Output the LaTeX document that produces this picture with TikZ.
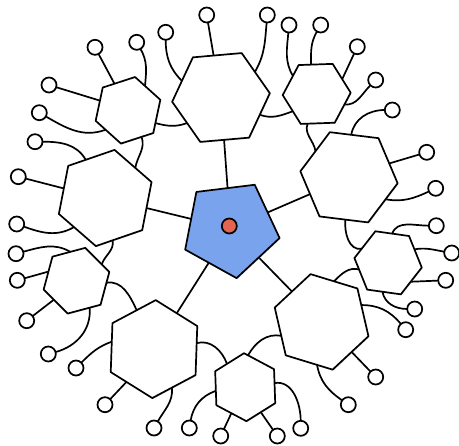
\documentclass[tikz,border=0pt]{standalone}
\usetikzlibrary{shapes.geometric,backgrounds,shadows}
\definecolor{pentblue}{RGB}{122,163,238}
\definecolor{dotred}{RGB}{228,100,82}
\tikzset{
  base/.style={draw=black, line width=1.7pt, line join=round, inner sep=0pt, outer sep=0pt, fill=white,
     drop shadow={shadow xshift=0.8pt, shadow yshift=-1pt, opacity=0.25}},
  bighex/.style={base, regular polygon, regular polygon sides=6, minimum size=98pt},
  smallhex/.style={base, regular polygon, regular polygon sides=6, minimum size=68pt},
  pent/.style={base, regular polygon, regular polygon sides=5, minimum size=100pt, fill=pentblue},
  leaf/.style={base, circle, minimum size=15pt},
  reddot/.style={base, circle, minimum size=15pt, fill=dotred},
  conn/.style={line width=1.7pt, line cap=round},
}
\begin{document}
\begin{tikzpicture}[x=1pt,y=1pt]
\useasboundingbox (0,0) rectangle (459,-446);
% centre
\node[pent, regular polygon rotate=-29] (P) at (230.5,-228.5) {};
\node[reddot] (R) at (229.3,-226) {};
% hexagons
\node[bighex, regular polygon rotate=5] (H1) at (221,-97.5) {};
\node[smallhex, regular polygon rotate=18] (H2) at (128,-110.3) {};
\node[smallhex, regular polygon rotate=2] (H3) at (316.7,-93.9) {};
\node[bighex, regular polygon rotate=-7] (H4) at (349,-177.3) {};
\node[smallhex, regular polygon rotate=-8] (H5) at (388.1,-262.8) {};
\node[bighex, regular polygon rotate=-17] (H6) at (321.6,-321.9) {};
\node[smallhex, regular polygon rotate=32] (H7) at (245.2,-387.2) {};
\node[bighex, regular polygon rotate=28] (H8) at (154,-349.1) {};
\node[smallhex, regular polygon rotate=15] (H9) at (76.5,-280.7) {};
\node[bighex, regular polygon rotate=19] (H10) at (105.2,-198) {};
% leaves
\node[leaf] (a1) at (206.7,-15) {};
\node[leaf] (a2) at (165.7,-32.3) {};
\node[leaf] (a3) at (267.3,-15) {};
\node[leaf] (b1) at (136.7,-42.3) {};
\node[leaf] (b2) at (95,-47.3) {};
\node[leaf] (b3) at (49,-85) {};
\node[leaf] (b4) at (39.3,-112.7) {};
\node[leaf] (c1) at (289,-25) {};
\node[leaf] (c2) at (320.7,-25) {};
\node[leaf] (c3) at (357.3,-46.7) {};
\node[leaf] (c4) at (375.7,-80) {};
\node[leaf] (d1) at (392.3,-110) {};
\node[leaf] (d2) at (426.7,-152.3) {};
\node[leaf] (d3) at (435.7,-188.3) {};
\node[leaf] (e1) at (436.3,-225.7) {};
\node[leaf] (e2) at (451.7,-253) {};
\node[leaf] (e3) at (445.7,-280.3) {};
\node[leaf] (e4) at (414.7,-309) {};
\node[leaf] (f1) at (405.7,-329.7) {};
\node[leaf] (f2) at (375.7,-377) {};
\node[leaf] (f3) at (348.3,-404.7) {};
\node[leaf] (g1) at (300.7,-428.3) {};
\node[leaf] (g2) at (277.3,-436) {};
\node[leaf] (g3) at (220.7,-436) {};
\node[leaf] (g4) at (189.3,-428) {};
\node[leaf] (h1) at (76,-368) {};
\node[leaf] (h2) at (105,-404.7) {};
\node[leaf] (h3) at (154,-428) {};
\node[leaf] (i1) at (16,-253.7) {};
\node[leaf] (i2) at (17.3,-280.3) {};
\node[leaf] (i3) at (26.7,-320.7) {};
\node[leaf] (i4) at (48.3,-354) {};
\node[leaf] (j1) at (35,-141.7) {};
\node[leaf] (j2) at (18.3,-176.7) {};
\node[leaf] (j3) at (16.7,-224) {};
\begin{pgfonlayer}{background}
% centre spokes
\draw[conn] (P) -- (H1);
\draw[conn] (P) -- (H4);
\draw[conn] (P) -- (H6);
\draw[conn] (P) -- (H8);
\draw[conn] (P) -- (H10);
% ring
\draw[conn] (H2.-25) to[out=-15,in=200] (H1.217);
\draw[conn] (H2.-63) to[out=-70,in=80] (H10.45);
\draw[conn] (H1.-24) to[out=-20,in=200] (H3.216);
\draw[conn] (H3.253) to[out=250,in=100] (H4.142);
\draw[conn] (H4.265) to[out=265,in=190] (H5.152);
\draw[conn] (H5.193) to[out=165,in=45] (H6.73);
\draw[conn] (H6.199) to[out=170,in=60] (H7.85);
\draw[conn] (H8.8) to[out=15,in=110] (H7.128);
\draw[conn] (H9.-4) to[out=10,in=115] (H8.114);
\draw[conn] (H10.280) to[out=-80,in=70] (H9.33);
% leaves
\draw[conn] (H1.100) -- (a1);
\draw[conn] (H1.157) to[out=135,in=-90] (a2);
\draw[conn] (H1.37) to[out=60,in=-95] (a3);
\draw[conn] (H2.55) to[out=85,in=-60] (b1);
\draw[conn] (H2.117) -- (b2);
\draw[conn] (H2.161) -- (b3);
\draw[conn] (H2.221) to[out=200,in=-30] (b4);
\draw[conn] (H3.143) to[out=120,in=-95] (c1);
\draw[conn] (H3.101) to[out=90,in=-120] (c2);
\draw[conn] (H3.30) -- (c3);
\draw[conn] (H3.-21) to[out=-5,in=-135] (c4);
\draw[conn] (H4.87) to[out=80,in=180] (d1);
\draw[conn] (H4.19) -- (d2);
\draw[conn] (H4.-31) to[out=-10,in=-155] (d3);
\draw[conn] (H5.82) to[out=70,in=180] (e1);
\draw[conn] (H5.27) to[out=10,in=170] (e2);
\draw[conn] (H5.-40) -- (e3);
\draw[conn] (H5.259) to[out=-80,in=180] (e4);
\draw[conn] (H6.23) to[out=0,in=130] (f1);
\draw[conn] (H6.-45) -- (f2);
\draw[conn] (H6.264) to[out=-80,in=145] (f3);
\draw[conn] (H7.8) to[out=10,in=90] (g1);
\draw[conn] (H7.-58) -- (g2);
\draw[conn] (H7.242) -- (g3);
\draw[conn] (H7.187) to[out=200,in=80] (g4);
\draw[conn] (H8.170) to[out=200,in=45] (h1);
\draw[conn] (H8.230) -- (h2);
\draw[conn] (H8.295) to[out=-85,in=60] (h3);
\draw[conn] (H9.102) to[out=150,in=15] (i1);
\draw[conn] (H9.162) -- (i2);
\draw[conn] (H9.220) -- (i3);
\draw[conn] (H9.296) to[out=-85,in=15] (i4);
\draw[conn] (H10.117) to[out=120,in=0] (j1);
\draw[conn] (H10.167) -- (j2);
\draw[conn] (H10.223) to[out=210,in=-20] (j3);
\end{pgfonlayer}
\end{tikzpicture}
\end{document}
